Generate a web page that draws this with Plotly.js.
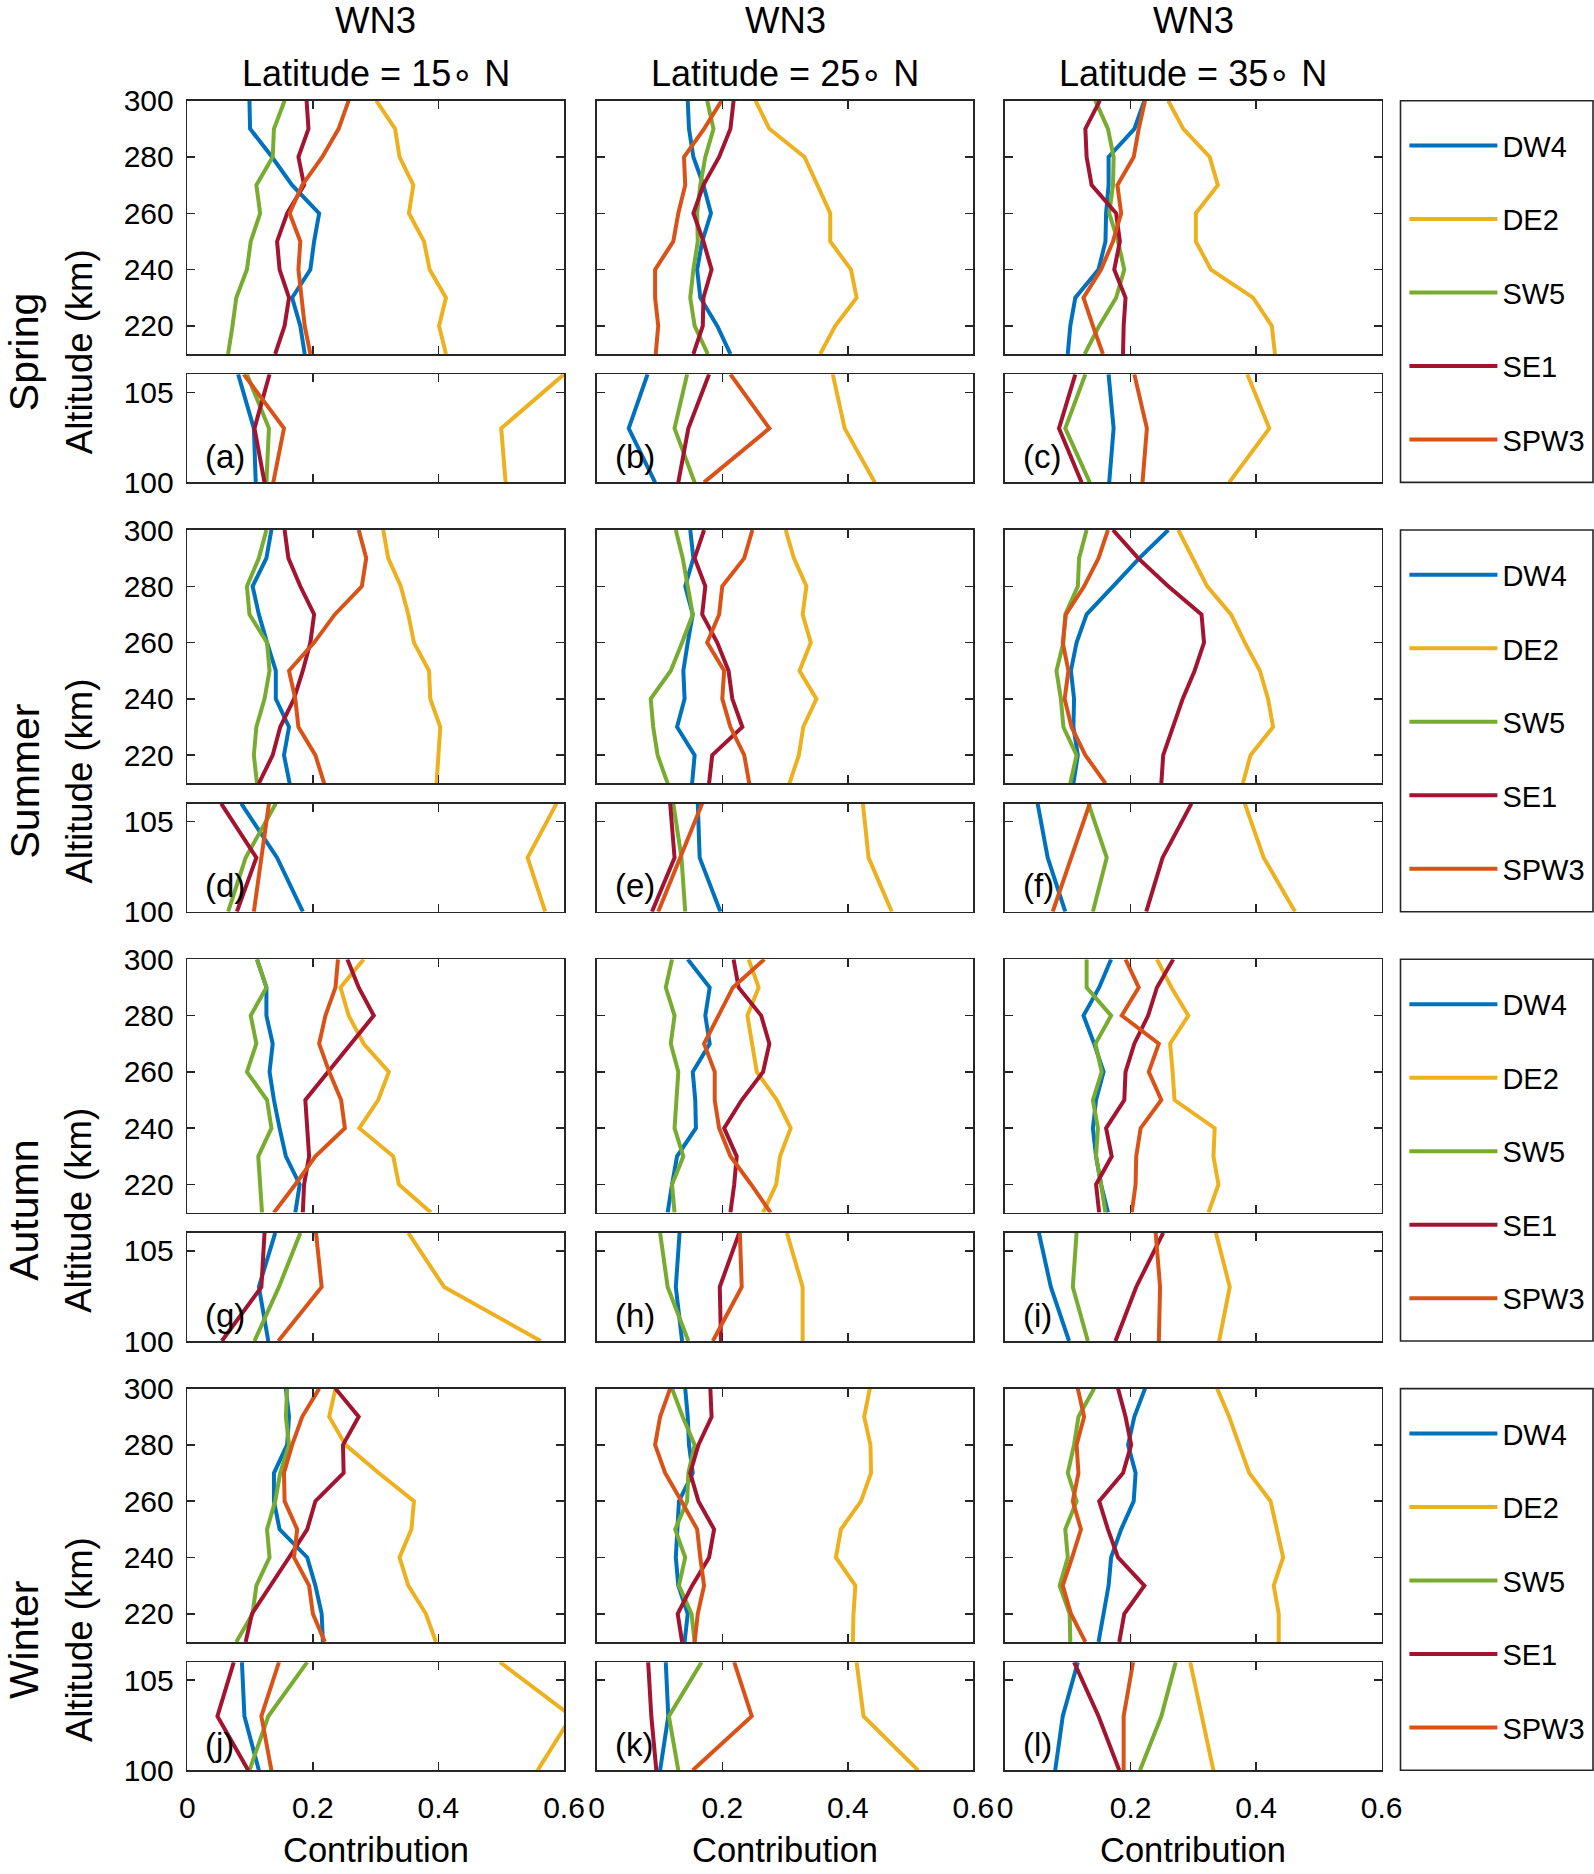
<!DOCTYPE html>
<html><head><meta charset="utf-8">
<script src="https://cdn.plot.ly/plotly-3.0.1.min.js"></script>
<style>html,body{margin:0;padding:0;background:#fff}#chart{width:1594px;height:1874px}</style>
</head><body><div id="chart"></div>
<script>
// ---------------- DATA ----------------
const seriesNames = ['DW4', 'DE2', 'SW5', 'SE1', 'SPW3'];
const seriesColors = ['#0072BD', '#EDB120', '#77AC30', '#A2142F', '#D95319'];
const seasons = ['Spring', 'Summer', 'Autumn', 'Winter'];
const latitudes = ['15', '25', '35'];
const panelLetters = ['a','b','c','d','e','f','g','h','i','j','k','l'];
const altUpper = [300, 290, 280, 270, 260, 250, 240, 230, 220, 210];
const altLower = [106, 103, 100];
const xTicks = [0, 0.2, 0.4, 0.6];
const upperTicks = [220, 240, 260, 280, 300];
const lowerTicks = [100, 105];

// each panel: rows in series order DW4, DE2, SW5, SE1, SPW3
const a_up = [
  [0.099, 0.100, 0.135, 0.167, 0.210, 0.202, 0.196, 0.167, 0.180, 0.187],
  [0.301, 0.331, 0.338, 0.360, 0.353, 0.377, 0.386, 0.412, 0.401, 0.412],
  [0.155, 0.138, 0.136, 0.110, 0.116, 0.101, 0.095, 0.078, 0.072, 0.065],
  [0.190, 0.193, 0.177, 0.186, 0.159, 0.143, 0.147, 0.162, 0.155, 0.140],
  [0.257, 0.241, 0.215, 0.183, 0.163, 0.180, 0.177, 0.182, 0.187, 0.196]];
const a_lo = [[0.081, 0.106, 0.109],[0.600, 0.500, 0.507],[0.095, 0.130, 0.126],[0.131, 0.107, 0.123],[0.090, 0.154, 0.137]];

const b_up = [
  [0.145, 0.147, 0.154, 0.170, 0.182, 0.168, 0.160, 0.165, 0.192, 0.213],
  [0.253, 0.275, 0.331, 0.352, 0.372, 0.372, 0.405, 0.414, 0.380, 0.356],
  [0.176, 0.186, 0.173, 0.165, 0.160, 0.161, 0.154, 0.149, 0.156, 0.177],
  [0.218, 0.213, 0.195, 0.170, 0.154, 0.170, 0.183, 0.170, 0.169, 0.154],
  [0.199, 0.171, 0.139, 0.141, 0.130, 0.122, 0.093, 0.093, 0.098, 0.094]];
const b_lo = [[0.081, 0.051, 0.093],[0.376, 0.395, 0.443],[0.144, 0.124, 0.156],[0.179, 0.146, 0.130],[0.213, 0.275, 0.171]];

const c_up = [
  [0.222, 0.206, 0.165, 0.165, 0.161, 0.160, 0.149, 0.112, 0.104, 0.100],
  [0.260, 0.284, 0.326, 0.339, 0.304, 0.304, 0.328, 0.395, 0.425, 0.430],
  [0.144, 0.164, 0.173, 0.172, 0.166, 0.180, 0.190, 0.177, 0.150, 0.127],
  [0.151, 0.128, 0.130, 0.138, 0.177, 0.183, 0.174, 0.192, 0.189, 0.188],
  [0.223, 0.213, 0.205, 0.179, 0.185, 0.172, 0.153, 0.125, 0.140, 0.156]];
const c_lo = [[0.165, 0.173, 0.166],[0.386, 0.421, 0.357],[0.128, 0.096, 0.135],[0.112, 0.086, 0.122],[0.206, 0.226, 0.219]];

const d_up = [
  [0.134, 0.126, 0.104, 0.114, 0.127, 0.141, 0.141, 0.162, 0.154, 0.163],
  [0.312, 0.320, 0.340, 0.352, 0.361, 0.385, 0.387, 0.403, 0.400, 0.397],
  [0.126, 0.114, 0.095, 0.099, 0.127, 0.131, 0.123, 0.110, 0.106, 0.111],
  [0.155, 0.161, 0.180, 0.202, 0.196, 0.184, 0.170, 0.148, 0.136, 0.114],
  [0.273, 0.285, 0.278, 0.235, 0.202, 0.162, 0.172, 0.177, 0.204, 0.218]];
const d_lo = [[0.086, 0.143, 0.184],[0.588, 0.542, 0.570],[0.141, 0.093, 0.065],[0.054, 0.110, 0.079],[0.130, 0.118, 0.106]];

const e_up = [
  [0.149, 0.154, 0.141, 0.153, 0.145, 0.138, 0.140, 0.128, 0.156, 0.152],
  [0.301, 0.314, 0.334, 0.328, 0.341, 0.323, 0.350, 0.329, 0.322, 0.307],
  [0.126, 0.137, 0.145, 0.153, 0.136, 0.118, 0.086, 0.090, 0.097, 0.113],
  [0.171, 0.156, 0.173, 0.168, 0.192, 0.210, 0.216, 0.232, 0.184, 0.179],
  [0.248, 0.235, 0.200, 0.195, 0.176, 0.203, 0.200, 0.213, 0.235, 0.243]];
const e_lo = [[0.161, 0.164, 0.197],[0.424, 0.433, 0.470],[0.122, 0.135, 0.141],[0.117, 0.124, 0.088],[0.168, 0.133, 0.098]];

const f_up = [
  [0.260, 0.214, 0.172, 0.130, 0.114, 0.105, 0.110, 0.109, 0.116, 0.109],
  [0.276, 0.299, 0.322, 0.360, 0.382, 0.406, 0.419, 0.427, 0.391, 0.379],
  [0.130, 0.118, 0.116, 0.096, 0.093, 0.082, 0.089, 0.093, 0.114, 0.104],
  [0.172, 0.212, 0.260, 0.313, 0.317, 0.302, 0.283, 0.267, 0.252, 0.249],
  [0.164, 0.149, 0.126, 0.097, 0.092, 0.101, 0.095, 0.106, 0.128, 0.160]];
const f_lo = [[0.052, 0.068, 0.096],[0.382, 0.412, 0.462],[0.133, 0.162, 0.140],[0.297, 0.251, 0.225],[0.135, 0.105, 0.076]];

const g_up = [
  [0.111, 0.126, 0.126, 0.136, 0.131, 0.138, 0.147, 0.157, 0.179, 0.172],
  [0.281, 0.244, 0.257, 0.281, 0.321, 0.304, 0.274, 0.328, 0.337, 0.388],
  [0.111, 0.126, 0.101, 0.110, 0.095, 0.127, 0.134, 0.113, 0.116, 0.119],
  [0.255, 0.273, 0.297, 0.260, 0.224, 0.188, 0.191, 0.194, 0.186, 0.184],
  [0.240, 0.236, 0.220, 0.210, 0.226, 0.245, 0.251, 0.204, 0.172, 0.138]];
const g_lo = [[0.140, 0.114, 0.129],[0.352, 0.409, 0.563],[0.180, 0.146, 0.107],[0.123, 0.118, 0.055],[0.205, 0.214, 0.145]];

const h_up = [
  [0.145, 0.180, 0.173, 0.180, 0.153, 0.157, 0.158, 0.128, 0.120, 0.113],
  [0.242, 0.258, 0.240, 0.248, 0.255, 0.287, 0.309, 0.292, 0.286, 0.265],
  [0.120, 0.110, 0.124, 0.118, 0.130, 0.127, 0.124, 0.138, 0.120, 0.124],
  [0.218, 0.226, 0.262, 0.275, 0.265, 0.231, 0.203, 0.223, 0.219, 0.213],
  [0.267, 0.217, 0.194, 0.171, 0.188, 0.188, 0.195, 0.213, 0.246, 0.277]];
const h_lo = [[0.132, 0.126, 0.136],[0.303, 0.328, 0.328],[0.101, 0.113, 0.146],[0.227, 0.196, 0.198],[0.228, 0.231, 0.185]];

const i_up = [
  [0.169, 0.150, 0.125, 0.142, 0.157, 0.145, 0.140, 0.145, 0.153, 0.164],
  [0.242, 0.265, 0.292, 0.263, 0.267, 0.270, 0.334, 0.332, 0.340, 0.324],
  [0.130, 0.130, 0.169, 0.144, 0.154, 0.140, 0.148, 0.145, 0.153, 0.160],
  [0.268, 0.242, 0.228, 0.206, 0.192, 0.190, 0.161, 0.170, 0.145, 0.150],
  [0.192, 0.213, 0.186, 0.245, 0.229, 0.249, 0.216, 0.209, 0.208, 0.202]];
const i_lo = [[0.054, 0.073, 0.102],[0.336, 0.358, 0.341],[0.114, 0.108, 0.132],[0.252, 0.209, 0.176],[0.240, 0.247, 0.245]];

const j_up = [
  [0.157, 0.162, 0.159, 0.138, 0.138, 0.147, 0.191, 0.204, 0.214, 0.216],
  [0.236, 0.226, 0.252, 0.305, 0.361, 0.357, 0.338, 0.352, 0.380, 0.396],
  [0.159, 0.157, 0.162, 0.148, 0.140, 0.127, 0.131, 0.110, 0.104, 0.078],
  [0.236, 0.273, 0.248, 0.249, 0.204, 0.191, 0.162, 0.132, 0.103, 0.093],
  [0.210, 0.183, 0.167, 0.154, 0.155, 0.175, 0.170, 0.194, 0.200, 0.219]];
const j_lo = [[0.087, 0.091, 0.114],[0.498, 0.612, 0.558],[0.191, 0.129, 0.099],[0.074, 0.048, 0.097],[0.146, 0.118, 0.134]];

const k_up = [
  [0.141, 0.145, 0.147, 0.153, 0.131, 0.129, 0.126, 0.130, 0.145, 0.140],
  [0.435, 0.426, 0.436, 0.437, 0.421, 0.389, 0.381, 0.412, 0.409, 0.408],
  [0.120, 0.137, 0.156, 0.146, 0.144, 0.125, 0.141, 0.131, 0.151, 0.156],
  [0.181, 0.183, 0.162, 0.149, 0.162, 0.187, 0.179, 0.152, 0.129, 0.136],
  [0.117, 0.101, 0.093, 0.109, 0.135, 0.160, 0.165, 0.171, 0.161, 0.156]];
const k_lo = [[0.110, 0.114, 0.101],[0.414, 0.425, 0.512],[0.167, 0.115, 0.130],[0.082, 0.087, 0.095],[0.219, 0.247, 0.153]];

const l_up = [
  [0.223, 0.206, 0.196, 0.208, 0.205, 0.185, 0.169, 0.165, 0.157, 0.149],
  [0.338, 0.357, 0.373, 0.389, 0.423, 0.433, 0.443, 0.428, 0.436, 0.436],
  [0.142, 0.117, 0.110, 0.100, 0.114, 0.096, 0.100, 0.087, 0.103, 0.104],
  [0.180, 0.192, 0.201, 0.188, 0.150, 0.164, 0.180, 0.222, 0.190, 0.182],
  [0.116, 0.126, 0.114, 0.117, 0.108, 0.121, 0.107, 0.092, 0.105, 0.128]];
const l_lo = [[0.116, 0.092, 0.080],[0.295, 0.313, 0.332],[0.272, 0.249, 0.215],[0.110, 0.149, 0.182],[0.204, 0.189, 0.189]];

const panelsUpper = [a_up, b_up, c_up, d_up, e_up, f_up, g_up, h_up, i_up, j_up, k_up, l_up];
const panelsLower = [a_lo, b_lo, c_lo, d_lo, e_lo, f_lo, g_lo, h_lo, i_lo, j_lo, k_lo, l_lo];

// ---------------- LAYOUT ----------------
const W = 1594, H = 1874;
const FONT = 'Liberation Sans, Arial, Helvetica, sans-serif';
const AX = '#262626';
const colLeft = [187.3, 596.7, 1005.0];
const colWidth = 376.7;
const rowTop0 = 100.7, rowPitch = 429.3;
const upH = 253.3, loTopOff = 273.6, loBotOff = 381.7;
const tickFont = 30;
const LW = 4;

const px = v => v / W;
const py = v => 1 - v / H;

const traces = [];
const layout = {
  width: W, height: H,
  margin: {l: 0, r: 0, t: 0, b: 0},
  paper_bgcolor: '#ffffff', plot_bgcolor: '#ffffff',
  font: {family: FONT, color: '#000000', size: tickFont},
  showlegend: true,
  annotations: [], shapes: []
};

function axisBase() {
  return {
    showline: true, linecolor: AX, linewidth: 1.6, mirror: 'ticks',
    ticks: 'inside', ticklen: 8, tickwidth: 1.5, tickcolor: AX,
    showgrid: false, zeroline: false, fixedrange: true,
    tickfont: {family: FONT, size: tickFont, color: '#000000'}
  };
}

for (let r = 0; r < 4; r++) {
  const top = rowTop0 + rowPitch * r;
  const legKey = r === 0 ? 'legend' : 'legend' + (r + 1);
  for (let c = 0; c < 3; c++) {
    const p = r * 3 + c;
    const iu = r * 6 + c * 2 + 1, il = iu + 1;
    const xd = [px(colLeft[c]), px(colLeft[c] + colWidth)];
    layout['xaxis' + iu] = Object.assign(axisBase(), {
      domain: xd, anchor: 'y' + iu, range: [0, 0.6], tickvals: xTicks, showticklabels: false});
    layout['yaxis' + iu] = Object.assign(axisBase(), {
      domain: [py(top + upH), py(top)], anchor: 'x' + iu, range: [210, 300],
      tickvals: upperTicks, showticklabels: c === 0, ticklabelstandoff: 6});
    layout['xaxis' + il] = Object.assign(axisBase(), {
      domain: xd, anchor: 'y' + il, range: [0, 0.6], tickvals: xTicks,
      ticktext: xTicks.map(String), showticklabels: r === 3, ticklabelstandoff: 10});
    layout['yaxis' + il] = Object.assign(axisBase(), {
      domain: [py(top + loBotOff), py(top + loTopOff)], anchor: 'x' + il, range: [100, 106],
      tickvals: lowerTicks, showticklabels: c === 0, ticklabelstandoff: 6});

    for (let s = 0; s < seriesNames.length; s++) {
      const grp = 'r' + r + seriesNames[s];
      traces.push({
        type: 'scatter', mode: 'lines', x: panelsUpper[p][s], y: altUpper,
        xaxis: 'x' + iu, yaxis: 'y' + iu, name: seriesNames[s],
        line: {color: seriesColors[s], width: LW},
        legend: legKey, legendgroup: grp, showlegend: c === 0, hoverinfo: 'skip'
      });
      traces.push({
        type: 'scatter', mode: 'lines', x: panelsLower[p][s], y: altLower,
        xaxis: 'x' + il, yaxis: 'y' + il, name: seriesNames[s],
        line: {color: seriesColors[s], width: LW},
        legend: legKey, legendgroup: grp, showlegend: false, hoverinfo: 'skip'
      });
    }
    // panel letter
    layout.annotations.push({
      xref: 'x' + il + ' domain', yref: 'y' + il + ' domain', x: 0.043, y: 0.24,
      xanchor: 'left', yanchor: 'middle', showarrow: false,
      text: '(' + panelLetters[p] + ')', font: {family: FONT, size: 33, color: '#000'}
    });
  }
  // legend frame and legend
  layout.shapes.push({type: 'rect', xref: 'paper', yref: 'paper',
    x0: px(1400.5), x1: px(1593), y0: py(top + loBotOff), y1: py(top),
    line: {color: AX, width: 1.6}, fillcolor: 'rgba(0,0,0,0)'});
  layout[legKey] = {
    x: px(1404.4), xanchor: 'left', y: py(top + 19.5), yanchor: 'top',
    bgcolor: 'rgba(0,0,0,0)', borderwidth: 0,
    font: {family: FONT, size: 29, color: '#000'},
    tracegroupgap: 32.8, itemwidth: 88, itemclick: false, itemdoubleclick: false
  };
  // season + altitude labels
  const mid = top + 251.5;
  layout.annotations.push({xref: 'paper', yref: 'paper', x: px(24), y: py(mid),
    xanchor: 'center', yanchor: 'middle', textangle: -90, showarrow: false,
    text: seasons[r], font: {family: FONT, size: 41, color: '#000'}});
  layout.annotations.push({xref: 'paper', yref: 'paper', x: px(79), y: py(mid),
    xanchor: 'center', yanchor: 'middle', textangle: -90, showarrow: false,
    text: 'Altitude (km)', font: {family: FONT, size: 36.5, color: '#000'}});
}

for (let c = 0; c < 3; c++) {
  const cx = px(colLeft[c] + colWidth / 2);
  layout.annotations.push({xref: 'paper', yref: 'paper', x: cx, y: py(20),
    xanchor: 'center', yanchor: 'middle', showarrow: false, text: 'WN3',
    font: {family: FONT, size: 36.5, color: '#000'}});
  layout.annotations.push({xref: 'paper', yref: 'paper', x: cx, y: py(74),
    xanchor: 'center', yanchor: 'middle', showarrow: false,
    text: 'Latitude = ' + latitudes[c] + '∘ N',
    font: {family: FONT, size: 36, color: '#000'}});
  layout.annotations.push({xref: 'paper', yref: 'paper', x: cx, y: py(1850),
    xanchor: 'center', yanchor: 'middle', showarrow: false, text: 'Contribution',
    font: {family: FONT, size: 34.5, color: '#000'}});
}

Plotly.newPlot('chart', traces, layout, {staticPlot: true, displayModeBar: false});
</script></body></html>
